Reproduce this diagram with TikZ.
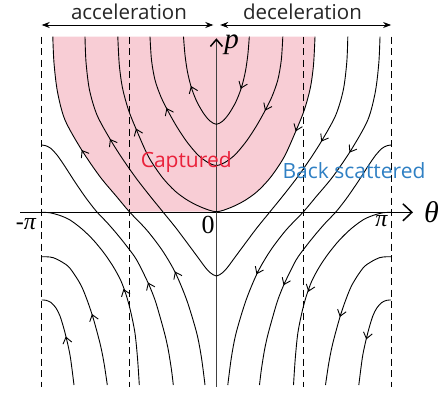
\documentclass[tikz,border=0pt]{standalone}
\usepackage{fontspec}
\setmainfont{Open Sans}
\newfontfamily\timesf{Liberation Serif}
\usetikzlibrary{arrows.meta}
\definecolor{capfill}{RGB}{248,205,213}
\definecolor{capred}{RGB}{234,33,58}
\definecolor{bsblue}{RGB}{47,128,196}
\newcommand\sidecurves{%
  % outer curve (pink edge on the left)
  \draw[curve] plot[smooth] coordinates {(52.8,36.7) (54,63) (57.5,92) (65,120) (81.7,150) (100,176.7) (116.7,196.7) (129.3,211.7) (146.7,230) (162,250) (175,272) (186.7,300) (196.7,333) (201.5,358) (205,385)};
  % curve from theta=-pi at p>0
  \draw[curve] plot[smooth] coordinates {(41.7,145) (46,145.8) (51,148.5) (57,155) (64,165) (75,182) (86,198) (96.7,211.7) (107,222.5) (117,234) (127,246.5) (136.7,260) (148.3,283.3) (155,300) (160,316.7) (165,335) (168.3,350) (171.5,370) (173.3,385)};
  % lower curves starting at theta=-pi
  \draw[curve] plot[smooth] coordinates {(41.7,212.3) (50,212.8) (60,215.5) (70,220) (82,229) (93.3,240) (104,253) (113.3,266.7) (121,281) (126.7,296.7) (131,313) (135,333.3) (137.5,358) (139.3,385)};
  \draw[curve] plot[smooth] coordinates {(41.7,256.7) (47,256.8) (53.3,257.7) (62,262) (70,268.3) (81.7,286.7) (91.7,313.3) (100,343.3) (104,363) (107.3,385)};
  \draw[curve] plot[smooth] coordinates {(41.7,300) (46,300.3) (51,302.5) (56,308) (60,316) (64,329) (67.5,343) (70.5,358) (74,385)};
  % flow arrows
  \draw[flowtip] (192.1,88.8) -- (191,86);
  \draw[flowtip] (167.8,110.7) -- (166.5,108);
  \draw[flowtip] (137.1,131.3) -- (136,128.5);
  \draw[flowtip] (111.5,141.6) -- (110,139);
  \draw[flowtip] (83.3,152.6) -- (81.7,150);
  \draw[flowtip] (176.3,274.2) -- (175,271.5);
  \draw[flowtip] (149.2,285.2) -- (148,282.5);
  \draw[flowtip] (124.5,291.8) -- (123.5,289);
  \draw[flowtip] (92.9,316.9) -- (92,314);
  \draw[flowtip] (66.5,339.4) -- (65.8,336.5);
}
\begin{document}
\begin{tikzpicture}[x=1pt,y=-1pt,
  curve/.style={line width=0.9pt, black},
  dashline/.style={line width=0.8pt, black, dash pattern=on 7pt off 4.5pt},
  flowtip/.style={line width=0.9pt, -{Straight Barb[length=6pt,width=9pt]}},
  lbl/.style={inner sep=0pt, outer sep=0pt},
  toparrow/.style={line width=0.8pt, {Stealth[length=8pt,width=6pt]}-{Stealth[length=8pt,width=6pt]}}]
\useasboundingbox (0,0) rectangle (443,393);
\fill[white] (0,0) rectangle (443,393);
% captured region
\fill[capfill] plot[smooth] coordinates {(52.8,36.7) (54,63) (57.5,92) (65,120) (81.7,150) (100,176.7) (116.7,196.7) (129.3,211.7)}
  -- plot[smooth] coordinates {(216.4,211.7) (230.8,207.5) (244.8,200.5) (257.8,191) (270.8,177) (284.3,156.7) (296.3,130) (304.3,110) (310.3,88) (313.5,65) (315,36.7)} -- cycle;
% dashed lines
\foreach \xx in {41.7,129.3,303.5,391.1} \draw[dashline] (\xx,36.7) -- (\xx,386.7);
% axes
\coordinate (thS) at (20,212.3);
\coordinate (thE) at (413,212.3);
\coordinate (pS) at (216.4,386.7);
\coordinate (pE) at (216.4,38.3);
\draw[line width=0.85pt, -{Straight Barb[length=9pt,width=17pt,line width=1.5pt]}] (thS) -- (thE);
\draw[line width=0.85pt, black!75, -{Straight Barb[length=7pt,width=12pt,line width=1.5pt,black]}] (pS) -- (pE);
% symmetric curves
\draw[curve] plot[smooth] coordinates {(183.5,36.7) (185,55) (187.5,72) (191.5,88) (197,102) (204,114) (210,121) (216.4,124.3) (222.8,121) (228.8,114) (235.8,102) (241.3,88) (245.3,72) (247.8,55) (249.3,36.7)};
\draw[curve] plot[smooth] coordinates {(150,36.7) (151.5,60) (155,80) (161,97) (168.5,112) (177,127) (187,142) (198,155) (208,162.5) (216.4,165.5) (224.8,162.5) (234.8,155) (245.8,142) (255.8,127) (264.3,112) (271.8,97) (277.8,80) (281.3,60) (282.8,36.7)};
\draw[curve] plot[smooth] coordinates {(117.8,36.7) (119.3,65) (122.5,88) (128.5,110) (136.5,130) (148.5,156.7) (162,177) (175,191) (188,200.5) (202,207.5) (216.4,211.7) (230.8,207.5) (244.8,200.5) (257.8,191) (270.8,177) (284.3,156.7) (296.3,130) (304.3,110) (310.3,88) (313.5,65) (315,36.7)};
\draw[curve] plot[smooth] coordinates {(85,36.7) (86,62) (89.5,90) (97,115) (110,139) (122,158) (136,178) (150,196) (163,212) (176,228) (188,244) (198,257.5) (205,267) (210,272.5) (216.4,276) (222.8,272.5) (227.8,267) (234.8,257.5) (244.8,244) (256.8,228) (269.8,212) (282.8,196) (296.8,178) (310.8,158) (322.8,139) (335.8,115) (343.3,90) (346.8,62) (347.8,36.7)};
% left side and mirrored right side
\sidecurves
\begin{scope}[shift={(432.8,0)}, xscale=-1,
  flowtip/.style={line width=0.9pt, {Straight Barb[length=6pt,width=9pt]}-}]
\sidecurves
\end{scope}
% top arrows
\coordinate (accL) at (41.7,25);
\coordinate (accR) at (213.3,25);
\coordinate (decL) at (220.2,25);
\coordinate (decR) at (391.1,25);
\draw[toparrow] (accL) -- (accR);
\draw[toparrow] (decL) -- (decR);
\node[lbl, anchor=base, text=black!85] (acc) at (129,20) {\fontsize{20.5}{24}\selectfont acceleration};
\node[lbl, anchor=base, text=black!85] (dec) at (302.5,20) {\fontsize{20.5}{24}\selectfont deceleration};
% region labels
\node[lbl, anchor=base, text=capred] (cap) at (186.2,167.7) {\fontsize{21}{24}\selectfont Captured};
\node[lbl, anchor=base, text=bsblue] (bs) at (354,178.3) {\fontsize{21}{24}\selectfont Back scattered};
% axis labels
\node[lbl] (thl) at (431.5,212.5) {\fontsize{30}{30}\selectfont\timesf\itshape θ};
\node[lbl] (pl) at (231.5,45) {\fontsize{29}{29}\selectfont\timesf\itshape p};
\node[lbl] (mpi) at (26,224) {\fontsize{24}{24}\selectfont\timesf -\itshape π};
\node[lbl] (zero) at (208,224.5) {\fontsize{26}{26}\selectfont\timesf 0};
\node[lbl] (ppi) at (381.5,221.5) {\fontsize{24}{24}\selectfont\timesf\itshape π};
\end{tikzpicture}
\end{document}
